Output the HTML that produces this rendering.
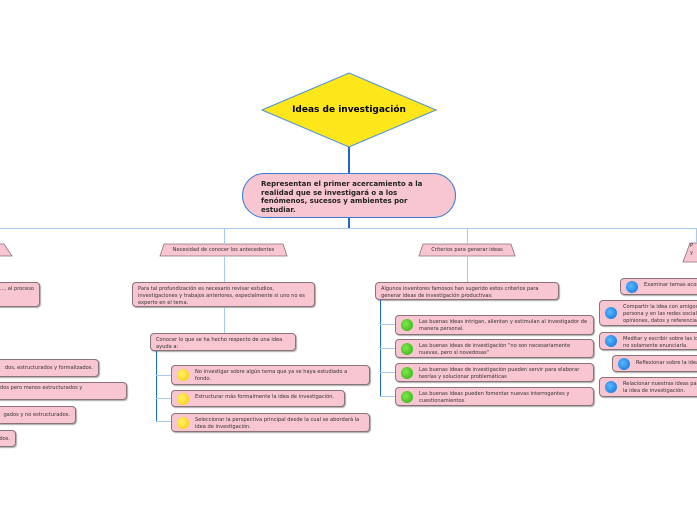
<!DOCTYPE html>
<html><head><meta charset="utf-8"><style>
body{margin:0;width:697px;height:520px;background:#fff;position:relative;overflow:hidden;font-family:"Liberation Sans",sans-serif}
.b{position:absolute;background:#f8c6d0;border:1px solid #8a7378;border-radius:4px;box-shadow:1px 1px 1px #aaa;font-family:"DejaVu Sans",sans-serif;font-size:5.1px;line-height:7px;color:#333;box-sizing:border-box;padding:3px 5px}
.c{padding-left:23px}
.d{position:absolute;left:5px;width:12px;height:12px;border-radius:50%}
.y{background:radial-gradient(circle at 40% 40%,#fff36a,#f5c800)}
.g{background:radial-gradient(circle at 40% 40%,#7ce84a,#2fae12)}
.u{background:radial-gradient(circle at 40% 40%,#5ab8ff,#0a6fd6)}
.l{position:absolute;background:#a9c9f0}
.k{position:absolute;background:#1f66d1}
.t{position:absolute;font-family:"DejaVu Sans",sans-serif;font-size:5.1px;color:#333;text-align:center;line-height:12px}
</style></head><body>
<svg width="697" height="520" style="position:absolute;left:0;top:0">
<polygon points="262,110 349,73 436,110 349,147" fill="#fde619" stroke="#4a90d9" stroke-width="1"/>
<line x1="349" y1="147" x2="349" y2="173" stroke="#1f66d1" stroke-width="2"/>
<line x1="349" y1="218" x2="349" y2="228" stroke="#1f66d1" stroke-width="2"/>
<polygon points="4,244 -4,244 -8,256 12,256" fill="#f8c6d0" stroke="#8a7378" stroke-width="0.8"/>
<polygon points="164,244 283,244 287,256 160,256" fill="#f8c6d0" stroke="#8a7378" stroke-width="0.8"/>
<polygon points="423,244 511,244 515,256 419,256" fill="#f8c6d0" stroke="#8a7378" stroke-width="0.8"/>
<polygon points="690,243 700,243 700,262 683,262" fill="#f8c6d0" stroke="#8a7378" stroke-width="0.8"/>
</svg>
<div style="position:absolute;left:262px;top:105px;width:174px;text-align:center;font-weight:bold;font-size:9px;font-family:'DejaVu Sans',sans-serif">Ideas de investigación</div>
<div style="position:absolute;left:242px;top:173px;width:214px;height:45px;box-sizing:border-box;border:1.5px solid #3a7bd5;border-radius:23px;background:#f8c6d0;padding:6px 18px;font-weight:bold;font-size:7px;line-height:8.6px;font-family:'DejaVu Sans',sans-serif;color:#222">Representan el primer acercamiento a la realidad que se investigará o a los fenómenos, sucesos y ambientes por estudiar.</div>
<div class="l" style="left:0;top:228px;width:697px;height:1px"></div>
<div class="l" style="left:224px;top:228px;width:1px;height:16px"></div>
<div class="l" style="left:467px;top:228px;width:1px;height:16px"></div>
<div class="l" style="left:696px;top:228px;width:1px;height:15px"></div>
<div class="t" style="left:160px;top:244px;width:127px">Necesidad de conocer los antecedentes</div>
<div class="t" style="left:419px;top:244px;width:96px">Criterios para generar ideas</div>
<div class="t" style="left:690px;top:243px;width:10px;line-height:7px;text-align:left">P<br>y</div>
<div class="l" style="left:224px;top:256px;width:1px;height:77px"></div>
<div class="b" style="left:132px;top:282px;width:183px;height:25px">Para tal profundización es necesario revisar estudios, investigaciones y trabajos anteriores, especialmente si uno no es experto en el tema.</div>
<div class="b" style="left:150px;top:333px;width:146px;height:18px">Conocer lo que se ha hecho respecto de una idea ayuda a:</div>
<div class="k" style="left:156px;top:351px;width:1px;height:71px"></div>
<div class="l" style="left:156px;top:375px;width:15px;height:1px"></div>
<div class="l" style="left:156px;top:398px;width:15px;height:1px"></div>
<div class="l" style="left:156px;top:421px;width:15px;height:1px"></div>
<div class="b c" style="left:171px;top:365px;width:199px;height:20px"><span class="d y" style="top:3px"></span>No investigar sobre algún tema que ya se haya estudiado a fondo.</div>
<div class="b c" style="left:171px;top:390px;width:174px;height:17px"><span class="d y" style="top:2px"></span>Estructurar más formalmente la idea de investigación.</div>
<div class="b c" style="left:171px;top:413px;width:199px;height:19px"><span class="d y" style="top:3px"></span>Seleccionar la perspectiva principal desde la cual se abordará la idea de investigación.</div>
<div class="l" style="left:467px;top:256px;width:1px;height:26px"></div>
<div class="b" style="left:375px;top:282px;width:184px;height:18px">Algunos inventores famosos han sugerido estos criterios para generar ideas de investigación productivas:</div>
<div class="k" style="left:380px;top:300px;width:1px;height:96px"></div>
<div class="l" style="left:380px;top:324px;width:15px;height:1px"></div>
<div class="l" style="left:380px;top:348px;width:15px;height:1px"></div>
<div class="l" style="left:380px;top:372px;width:15px;height:1px"></div>
<div class="l" style="left:380px;top:396px;width:15px;height:1px"></div>
<div class="b c" style="left:395px;top:315px;width:199px;height:20px"><span class="d g" style="top:3px"></span>Las buenas ideas intrigan, alientan y estimulan al investigador de manera personal.</div>
<div class="b c" style="left:395px;top:339px;width:199px;height:19px"><span class="d g" style="top:3px"></span>Las buenas ideas de investigación "no son necesariamente nuevas, pero sí novedosas"</div>
<div class="b c" style="left:395px;top:363px;width:199px;height:19px"><span class="d g" style="top:3px"></span>Las buenas ideas de investigación pueden servir para elaborar teorías y solucionar problemáticas</div>
<div class="b c" style="left:395px;top:387px;width:199px;height:19px"><span class="d g" style="top:3px"></span>Las buenas ideas pueden fomentar nuevas interrogantes y cuestionamientos.</div>
<div class="b c" style="left:620px;top:278px;width:90px;height:17px;white-space:nowrap"><span class="d u" style="top:2px"></span>Examinar temas acorde</div>
<div class="b c" style="left:599px;top:300px;width:110px;height:26px;white-space:nowrap"><span class="d u" style="top:6px"></span>Compartir la idea con amigos,<br>persona y en las redes sociales<br>opiniones, datos y referencias</div>
<div class="b c" style="left:599px;top:332px;width:110px;height:18px;white-space:nowrap"><span class="d u" style="top:2px"></span>Meditar y escribir sobre las ideas<br>no solamente enunciarla.</div>
<div class="b c" style="left:612px;top:355px;width:100px;height:17px;white-space:nowrap;padding-top:4px"><span class="d u" style="top:2px"></span>Reflexionar sobre la idea</div>
<div class="b c" style="left:599px;top:377px;width:110px;height:20px;white-space:nowrap"><span class="d u" style="top:3px"></span>Relacionar nuestras ideas para<br>la idea de investigación.</div>
<div class="b" style="left:-120px;top:282px;width:160px;height:25px;text-align:right">..., al proceso</div>
<div class="b" style="left:-120px;top:359px;width:219px;height:18px;text-align:right;padding-top:5px">dos, estructurados y formalizados.</div>
<div class="b" style="left:-120px;top:382px;width:247px;height:18px">&nbsp;</div>
<div style="position:absolute;left:0;top:385px;font-family:'DejaVu Sans',sans-serif;font-size:5.1px;color:#333">dos pero menos estructurados y</div>
<div class="b" style="left:-120px;top:406px;width:196px;height:18px;text-align:right;padding-top:5px">gados y no estructurados.</div>
<div class="b" style="left:-120px;top:430px;width:136px;height:17px;text-align:right;padding-top:5px">dos.</div>
</body></html>
